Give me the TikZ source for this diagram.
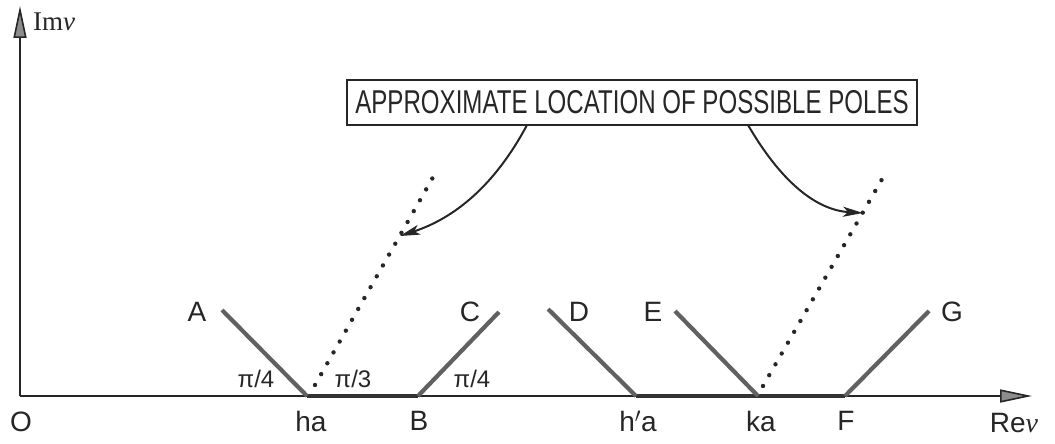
\documentclass[tikz,border=0pt]{standalone}
\usepackage{fontspec}
\newfontfamily\lab{Liberation Sans}
\newfontfamily\ser{Liberation Serif}
\usetikzlibrary{arrows.meta}
\begin{document}
\begin{tikzpicture}[x=1pt,y=-1pt,
  lbl/.style={font=\lab\fontsize{28}{32}\selectfont, inner sep=0pt, text=black!85},
  ang/.style={font=\lab\fontsize{24}{28}\selectfont, inner sep=0pt, text=black!85},
  cut/.style={line width=4.2pt, draw=black!62},
  seg/.style={line width=3.6pt, draw=black!80},
  dots/.style={line width=4.4pt, line cap=round, dash pattern=on 0pt off 12.5pt, draw=black!85},
  axis/.style={line width=1.6pt, draw=black!85, -{Triangle[length=32pt,width=13pt,fill=black!45]}},
  pointer/.style={line width=2pt, draw=black!85, -{Stealth[length=20pt,width=10pt,inset=5pt]}}]
\useasboundingbox (0,0) rectangle (1055,444);
% axes
\coordinate (O) at (20,396);
\coordinate (xend) at (1032,396);
\coordinate (yend) at (20,6);
\draw[axis] (O) -- (xend);
\draw[axis] (O) -- (yend);
% key points
\coordinate (ha) at (307,396);
\coordinate (B) at (418,396);
\coordinate (hpa) at (636,396);
\coordinate (ka) at (758,396);
\coordinate (F) at (845,396);
\coordinate (Aend) at (222,310);
\coordinate (Cend) at (499,312);
\coordinate (Dend) at (548,309);
\coordinate (Eend) at (675,311);
\coordinate (Gend) at (929,311);
\coordinate (p1a) at (315,385);
\coordinate (p1b) at (436,172);
\coordinate (p2a) at (763,386);
\coordinate (p2b) at (885,174);
% cuts
\draw[seg] (ha) -- (B);
\draw[seg] (hpa) -- (F);
\draw[cut] (Aend) -- (ha);
\draw[cut] (B) -- (Cend);
\draw[cut] (Dend) -- (hpa);
\draw[cut] (Eend) -- (ka);
\draw[cut] (F) -- (Gend);
% dotted pole lines
\draw[dots] (p1a) -- (p1b);
\draw[dots] (p2a) -- (p2b);
% labels
\node[lbl] (lO) at (21,422) {O};
\node[anchor=west, inner sep=0pt, font=\ser\fontsize{27}{30}\selectfont, text=black!85] (lIm) at (33,22) {Im{\itshape ν}};
\node[lbl] (lRe) at (1014,423) {Re{\ser\itshape ν}};
\node[lbl] (lA) at (197,312) {A};
\node[lbl] (lC) at (470,312) {C};
\node[lbl] (lD) at (579,312) {D};
\node[lbl] (lE) at (653,312) {E};
\node[lbl] (lG) at (952,312) {G};
\node[ang] (a1) at (256,379) {π/4};
\node[ang] (a2) at (353,379) {π/3};
\node[ang] (a3) at (472,379) {π/4};
\node[lbl] (lha) at (311,421) {ha};
\node[lbl] (lB) at (419,421) {B};
\node[lbl] (lhpa) at (638,421) {h$'$a};
\node[lbl] (lka) at (761,421) {ka};
\node[lbl] (lF) at (846,421) {F};
% box
\node[draw, line width=1.5pt, draw=black!85, text=black!85, minimum width=570pt, minimum height=45pt, inner sep=0pt] (box) at (632,102.5)
  {\scalebox{0.73}[1]{\lab\fontsize{33}{36}\selectfont APPROXIMATE LOCATION OF POSSIBLE POLES}};
\coordinate (s1) at (527,125);
\coordinate (s2) at (748,125);
\coordinate (t1) at (400,236);
\coordinate (t2) at (863,213);
\draw[pointer] (s1) .. controls (495,185) and (455,218) .. (t1);
\draw[pointer] (s2) .. controls (780,180) and (815,210) .. (t2);
\end{tikzpicture}
\end{document}
